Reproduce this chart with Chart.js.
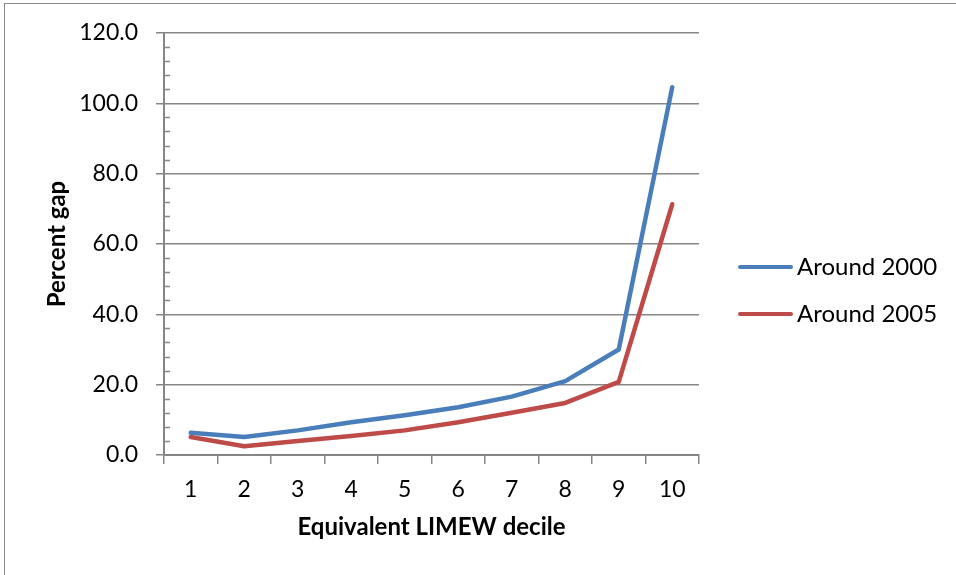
<!DOCTYPE html>
<html>
<head>
<meta charset="utf-8">
<script src="https://cdn.jsdelivr.net/npm/chart.js@4/dist/chart.umd.min.js"></script>
<style>
  html, body { margin: 0; padding: 0; background: #fff; }
  #wrap { position: relative; width: 956px; height: 575px; overflow: hidden; }
  #frame { position: absolute; left: 4px; top: 3px; width: 1000px; height: 700px; border: 1px solid #8a8a8a; box-sizing: border-box; }
  canvas { position: absolute; left: 0; top: 0; }
  .leg { position: absolute; left: 738px; font: 24px Lato, "Open Sans", sans-serif; color: #000; }
  .leg span.ln { position: absolute; left: 0; width: 55px; height: 4px; border-radius: 2px; }
  .leg span.tx { position: absolute; left: 59px; white-space: nowrap; line-height: 28px; }
</style>
</head>
<body>
<div id="wrap">
  <div id="frame"></div>
  <canvas id="chart" width="956" height="575"></canvas>
  <div id="legend"></div>
</div>
<script>
const deciles = ["1", "2", "3", "4", "5", "6", "7", "8", "9", "10"];
const around2000 = [6.3, 5.1, 7.0, 9.3, 11.3, 13.6, 16.6, 21.0, 30.0, 104.6];
const around2005 = [5.1, 2.5, 4.0, 5.4, 7.0, 9.3, 12.0, 14.8, 20.8, 71.3];
const seriesNames = ["Around 2000", "Around 2005"];
const seriesColors = ["#4a7ebb", "#be4b48"];

const font = "Lato, 'Open Sans', sans-serif";
const axisGray = "#868686";

// inward minor ticks on the value axis, every 4 units
const minorTicks = {
  id: "minorTicks",
  afterDraw(chart) {
    const y = chart.scales.y;
    const ctx = chart.ctx;
    const x0 = chart.scales.x.left;
    ctx.save();
    ctx.strokeStyle = axisGray;
    ctx.lineWidth = 1.5;
    for (let v = 4; v < 120; v += 4) {
      if (v % 20 === 0) continue;
      const py = Math.round(y.getPixelForValue(v)) + 0.5;
      ctx.beginPath();
      ctx.moveTo(x0, py);
      ctx.lineTo(x0 + 6, py);
      ctx.stroke();
    }
    ctx.restore();
  }
};

new Chart(document.getElementById("chart"), {
  type: "line",
  data: {
    labels: deciles,
    datasets: [
      {
        label: seriesNames[0],
        data: around2000,
        borderColor: seriesColors[0],
        backgroundColor: seriesColors[0],
        borderWidth: 4.5,
        borderCapStyle: "round",
        borderJoinStyle: "round",
        pointRadius: 0,
        tension: 0,
      },
      {
        label: seriesNames[1],
        data: around2005,
        borderColor: seriesColors[1],
        backgroundColor: seriesColors[1],
        borderWidth: 4.5,
        borderCapStyle: "round",
        borderJoinStyle: "round",
        pointRadius: 0,
        tension: 0,
      },
    ],
  },
  options: {
    responsive: false,
    animation: false,
    layout: { padding: { left: 0, right: 257, top: 33, bottom: 0 } },
    plugins: {
      legend: { display: false },
      tooltip: { enabled: false },
    },
    scales: {
      x: {
        offset: true,
        grid: {
          offset: true,
          drawOnChartArea: false,
          drawTicks: true,
          tickLength: 9,
          color: axisGray,
          lineWidth: 1.5,
        },
        border: { color: axisGray, width: 2 },
        ticks: {
          color: "#000",
          font: { family: font, size: 23 },
          padding: 12,
          maxRotation: 0,
        },
        title: {
          display: true,
          text: "Equivalent LIMEW decile",
          color: "#000",
          font: { family: font, size: 24, weight: "bold" },
          padding: { top: 0, bottom: 33 },
        },
        afterFit(scale) { scale.height = 120; },
      },
      y: {
        min: 0,
        max: 120,
        grid: {
          color: axisGray,
          lineWidth: 1.5,
          tickLength: 8,
        },
        border: { color: axisGray, width: 2 },
        ticks: {
          stepSize: 20,
          color: "#000",
          font: { family: font, size: 23 },
          padding: 18,
          callback: (v) => Number(v).toFixed(1),
        },
        title: {
          display: true,
          text: "Percent gap",
          color: "#000",
          font: { family: font, size: 24, weight: "bold" },
          padding: { top: 43, bottom: 0 },
        },
        afterFit(scale) { scale.width = 164; },
      },
    },
  },
  plugins: [minorTicks],
});

// legend
const legend = document.getElementById("legend");
const legendY = [267, 314];
seriesNames.forEach((name, i) => {
  const item = document.createElement("div");
  item.className = "leg";
  item.style.top = legendY[i] + "px";
  const ln = document.createElement("span");
  ln.className = "ln";
  ln.style.background = seriesColors[i];
  ln.style.top = "-2px";
  const tx = document.createElement("span");
  tx.className = "tx";
  tx.style.top = "-15px";
  tx.textContent = name;
  item.appendChild(ln);
  item.appendChild(tx);
  legend.appendChild(item);
});
</script>
</body>
</html>
